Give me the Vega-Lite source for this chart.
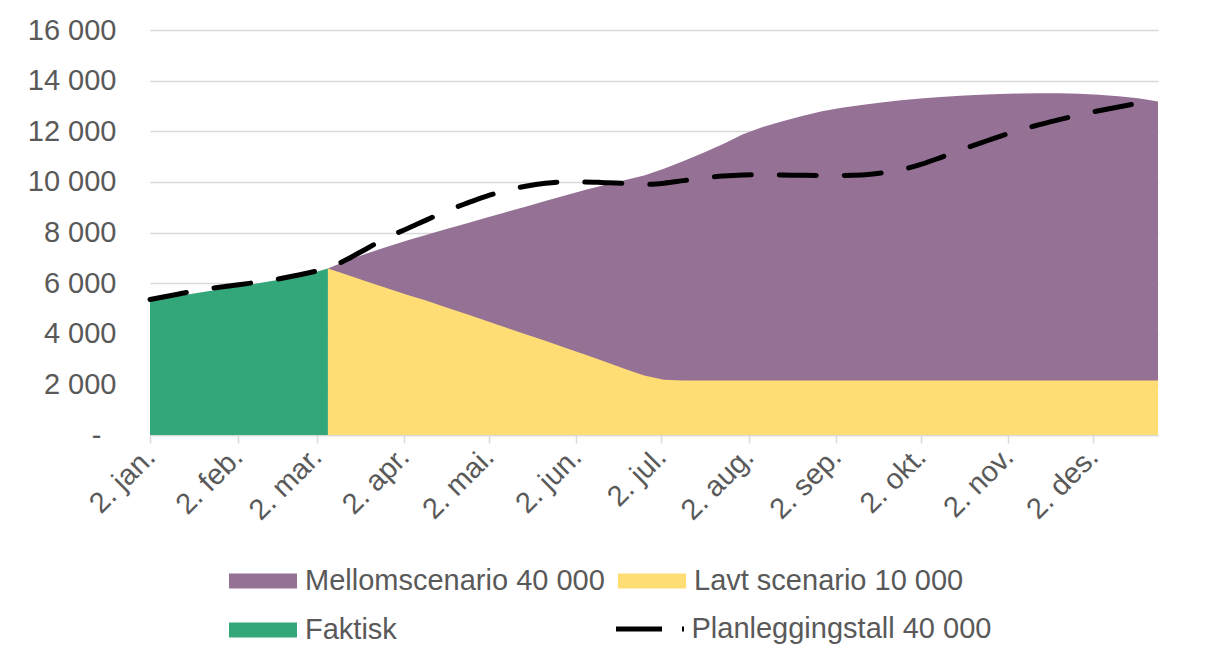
{
  "$schema": "https://vega.github.io/schema/vega-lite/v6.json",
  "width": 1008,
  "height": 405,
  "autosize": {"type": "none"},
  "padding": {"left": 150, "top": 30, "right": 54, "bottom": 229},
  "background": "#ffffff",
  "config": {
    "font": "Liberation Sans",
    "view": {"stroke": null},
    "axis": {"labelFont": "Liberation Sans", "labelFontSize": 29, "labelColor": "#595959"},
    "legend": {"labelFont": "Liberation Sans", "labelFontSize": 29, "labelColor": "#595959", "labelLimit": 500, "padding": 0, "title": null}
  },
  "data": {
    "values": [
      {"dato": "2021-01-02", "faktisk": 5300, "plan": 5350},
      {"dato": "2021-01-09", "faktisk": 5430, "plan": 5500},
      {"dato": "2021-01-16", "faktisk": 5560, "plan": 5650},
      {"dato": "2021-01-23", "faktisk": 5690, "plan": 5780},
      {"dato": "2021-01-30", "faktisk": 5810, "plan": 5890},
      {"dato": "2021-02-06", "faktisk": 5930, "plan": 5990},
      {"dato": "2021-02-13", "faktisk": 6060, "plan": 6100},
      {"dato": "2021-02-20", "faktisk": 6190, "plan": 6240},
      {"dato": "2021-02-27", "faktisk": 6350, "plan": 6400},
      {"dato": "2021-03-06", "faktisk": 6580, "lavt": 6580, "mellom": 6580, "plan": 6600},
      {"dato": "2021-03-13", "lavt": 6320, "mellom": 6900, "plan": 6950},
      {"dato": "2021-03-20", "lavt": 6050, "mellom": 7180, "plan": 7380},
      {"dato": "2021-03-27", "lavt": 5800, "mellom": 7440, "plan": 7800},
      {"dato": "2021-04-03", "lavt": 5540, "mellom": 7680, "plan": 8150},
      {"dato": "2021-04-10", "lavt": 5300, "mellom": 7910, "plan": 8500},
      {"dato": "2021-04-17", "lavt": 5040, "mellom": 8140, "plan": 8850},
      {"dato": "2021-04-24", "lavt": 4780, "mellom": 8360, "plan": 9150},
      {"dato": "2021-05-01", "lavt": 4510, "mellom": 8580, "plan": 9430},
      {"dato": "2021-05-08", "lavt": 4250, "mellom": 8800, "plan": 9650},
      {"dato": "2021-05-15", "lavt": 3980, "mellom": 9020, "plan": 9830},
      {"dato": "2021-05-22", "lavt": 3720, "mellom": 9240, "plan": 9950},
      {"dato": "2021-05-29", "lavt": 3450, "mellom": 9460, "plan": 10000},
      {"dato": "2021-06-05", "lavt": 3180, "mellom": 9680, "plan": 10000},
      {"dato": "2021-06-12", "lavt": 2900, "mellom": 9880, "plan": 9970},
      {"dato": "2021-06-19", "lavt": 2620, "mellom": 10060, "plan": 9940},
      {"dato": "2021-06-26", "lavt": 2350, "mellom": 10250, "plan": 9900},
      {"dato": "2021-07-03", "lavt": 2180, "mellom": 10520, "plan": 9950},
      {"dato": "2021-07-10", "lavt": 2150, "mellom": 10820, "plan": 10050},
      {"dato": "2021-07-17", "lavt": 2150, "mellom": 11150, "plan": 10150},
      {"dato": "2021-07-24", "lavt": 2150, "mellom": 11500, "plan": 10230},
      {"dato": "2021-07-31", "lavt": 2150, "mellom": 11880, "plan": 10270},
      {"dato": "2021-08-07", "lavt": 2150, "mellom": 12170, "plan": 10280},
      {"dato": "2021-08-14", "lavt": 2150, "mellom": 12400, "plan": 10270},
      {"dato": "2021-08-21", "lavt": 2150, "mellom": 12600, "plan": 10260},
      {"dato": "2021-08-28", "lavt": 2150, "mellom": 12790, "plan": 10250},
      {"dato": "2021-09-04", "lavt": 2150, "mellom": 12930, "plan": 10250},
      {"dato": "2021-09-11", "lavt": 2150, "mellom": 13040, "plan": 10270},
      {"dato": "2021-09-18", "lavt": 2150, "mellom": 13140, "plan": 10350},
      {"dato": "2021-09-25", "lavt": 2150, "mellom": 13220, "plan": 10480},
      {"dato": "2021-10-02", "lavt": 2150, "mellom": 13290, "plan": 10690},
      {"dato": "2021-10-09", "lavt": 2150, "mellom": 13350, "plan": 10960},
      {"dato": "2021-10-16", "lavt": 2150, "mellom": 13400, "plan": 11250},
      {"dato": "2021-10-23", "lavt": 2150, "mellom": 13440, "plan": 11530},
      {"dato": "2021-10-30", "lavt": 2150, "mellom": 13470, "plan": 11800},
      {"dato": "2021-11-06", "lavt": 2150, "mellom": 13490, "plan": 12050},
      {"dato": "2021-11-13", "lavt": 2150, "mellom": 13500, "plan": 12260},
      {"dato": "2021-11-20", "lavt": 2150, "mellom": 13500, "plan": 12460},
      {"dato": "2021-11-27", "lavt": 2150, "mellom": 13480, "plan": 12640},
      {"dato": "2021-12-04", "lavt": 2150, "mellom": 13440, "plan": 12810},
      {"dato": "2021-12-11", "lavt": 2150, "mellom": 13380, "plan": 12960},
      {"dato": "2021-12-18", "lavt": 2150, "mellom": 13300, "plan": 13110},
      {"dato": "2021-12-25", "lavt": 2150, "mellom": 13180, "plan": 13270}
    ]
  },
  "encoding": {
    "x": {
      "field": "dato",
      "type": "temporal",
      "scale": {
        "type": "utc",
        "domain": [
          {"year": 2021, "month": 1, "date": 2, "utc": true},
          {"year": 2021, "month": 12, "date": 25, "utc": true}
        ]
      },
      "axis": {
        "title": null,
        "grid": false,
        "values": [
          {"year": 2021, "month": 1, "date": 2, "utc": true},
          {"year": 2021, "month": 2, "date": 2, "utc": true},
          {"year": 2021, "month": 3, "date": 2, "utc": true},
          {"year": 2021, "month": 4, "date": 2, "utc": true},
          {"year": 2021, "month": 5, "date": 2, "utc": true},
          {"year": 2021, "month": 6, "date": 2, "utc": true},
          {"year": 2021, "month": 7, "date": 2, "utc": true},
          {"year": 2021, "month": 8, "date": 2, "utc": true},
          {"year": 2021, "month": 9, "date": 2, "utc": true},
          {"year": 2021, "month": 10, "date": 2, "utc": true},
          {"year": 2021, "month": 11, "date": 2, "utc": true},
          {"year": 2021, "month": 12, "date": 2, "utc": true}
        ],
        "labelExpr": "'2. ' + ['jan','feb','mar','apr','mai','jun','jul','aug','sep','okt','nov','des'][utcmonth(datum.value)] + '.'",
        "labelAngle": -45,
        "labelAlign": "right",
        "labelBaseline": "middle",
        "labelPadding": 9,
        "labelOverlap": false,
        "labelFlush": false,
        "tickSize": 8,
        "tickColor": "#d9d9d9",
        "tickWidth": 1.5,
        "domainColor": "#d9d9d9",
        "domainWidth": 1.5
      }
    }
  },
  "layer": [
    {
      "mark": {"type": "area", "opacity": 1},
      "encoding": {
        "y": {
          "field": "mellom",
          "type": "quantitative",
          "stack": null,
          "scale": {"domain": [0, 16000], "nice": false},
          "axis": {
            "title": null,
            "values": [0, 2000, 4000, 6000, 8000, 10000, 12000, 14000, 16000],
            "labelExpr": "datum.value === 0 ? '-' : replace(format(datum.value, ','), ',', ' ')",
            "domain": false,
            "ticks": false,
            "grid": true,
            "gridColor": "#d9d9d9",
            "gridWidth": 1.5,
            "labelPadding": {"condition": {"test": "datum.value === 0", "value": 49}, "value": 34}
          }
        },
        "fill": {
          "datum": "Mellomscenario 40 000",
          "type": "nominal",
          "scale": {
            "domain": ["Mellomscenario 40 000", "Faktisk", "Lavt scenario 10 000"],
            "range": ["#957295", "#34a77a", "#ffdd75"]
          },
          "legend": {
            "title": null,
            "orient": "none",
            "legendX": 79,
            "legendY": 537,
            "columns": 2,
            "columnPadding": 13,
            "rowPadding": 20,
            "symbolType": "M-1,-0.22H1V0.22H-1Z",
            "symbolSize": 4624,
            "symbolStrokeWidth": 0,
            "symbolOpacity": 1,
            "clipHeight": 28,
            "labelOffset": 8
          }
        }
      }
    },
    {
      "mark": {"type": "area", "opacity": 1},
      "encoding": {
        "y": {"field": "lavt", "type": "quantitative", "stack": null, "axis": {"title": null}},
        "fill": {"datum": "Lavt scenario 10 000", "type": "nominal"}
      }
    },
    {
      "mark": {"type": "area", "opacity": 1},
      "encoding": {
        "y": {"field": "faktisk", "type": "quantitative", "stack": null, "axis": {"title": null}},
        "fill": {"datum": "Faktisk", "type": "nominal"}
      }
    },
    {
      "mark": {"type": "line", "strokeWidth": 5, "strokeDash": [37, 28], "strokeCap": "round", "interpolate": "monotone"},
      "encoding": {
        "y": {"field": "plan", "type": "quantitative", "axis": {"title": null}},
        "stroke": {
          "datum": "Planleggingstall 40 000",
          "type": "nominal",
          "scale": {"domain": ["Planleggingstall 40 000"], "range": ["#000000"]},
          "legend": {
            "title": null,
            "orient": "none",
            "legendX": 463.5,
            "legendY": 585,
            "symbolType": "M-1,0H1",
            "symbolSize": 4624,
            "symbolStrokeWidth": 5,
            "symbolDash": [46, 20],
            "symbolOpacity": 1,
            "clipHeight": 28,
            "labelOffset": 5
          }
        }
      }
    }
  ]
}
